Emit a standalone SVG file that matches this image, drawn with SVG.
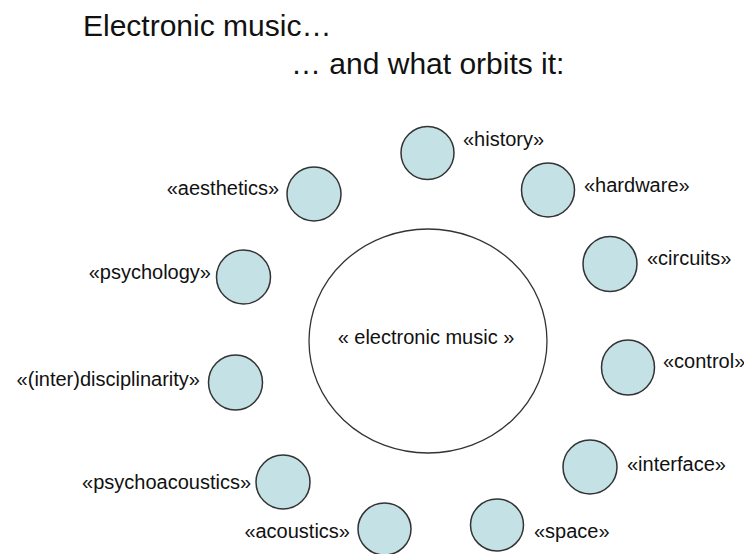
<svg xmlns="http://www.w3.org/2000/svg" width="744" height="554" viewBox="0 0 744 554">
<style>
text{font-family:"Liberation Sans",Arial,sans-serif;fill:#111}
.title{font-size:30px}
.lbl{font-size:20px}
.l{text-anchor:end}
.orb{fill:#c4e1e5;stroke:#333;stroke-width:1.5}
.core{fill:#fff;stroke:#333;stroke-width:1.3}
</style>
<rect width="744" height="554" fill="#fff"/>
<g id="title">
<text class="title" x="83" y="36">Electronic music…</text>
<text class="title" x="291" y="74">… and what orbits it:</text>
</g>
<g id="connectors"></g>
<g id="electronic-music">
<ellipse class="core" cx="428" cy="341" rx="119" ry="112"/>
<text class="lbl" x="426" y="344" text-anchor="middle">« electronic music »</text>
</g>
<g id="history"><ellipse class="orb" cx="427.5" cy="153" rx="26.5" ry="26.5"/><text class="lbl" x="463" y="146">«history»</text></g>
<g id="aesthetics"><ellipse class="orb" cx="314" cy="194" rx="27" ry="27"/><text class="lbl l" x="279" y="195">«aesthetics»</text></g>
<g id="hardware"><ellipse class="orb" cx="548" cy="190" rx="26.5" ry="27"/><text class="lbl" x="584" y="192">«hardware»</text></g>
<g id="psychology"><ellipse class="orb" cx="243.5" cy="277" rx="27" ry="27"/><text class="lbl l" x="211" y="279">«psychology»</text></g>
<g id="circuits"><ellipse class="orb" cx="610" cy="264" rx="27" ry="27.5"/><text class="lbl" x="647" y="265">«circuits»</text></g>
<g id="interdisciplinarity"><ellipse class="orb" cx="235.5" cy="382.5" rx="27" ry="27.5"/><text class="lbl l" x="200" y="386">«(inter)disciplinarity»</text></g>
<g id="control"><ellipse class="orb" cx="628" cy="367.5" rx="26.5" ry="27.5"/><text class="lbl" x="663" y="368">«control»</text></g>
<g id="interface"><ellipse class="orb" cx="590" cy="467" rx="27" ry="27"/><text class="lbl" x="627" y="471">«interface»</text></g>
<g id="psychoacoustics"><ellipse class="orb" cx="283" cy="482" rx="27" ry="27"/><text class="lbl l" x="251" y="489">«psychoacoustics»</text></g>
<g id="acoustics"><ellipse class="orb" cx="384.5" cy="529" rx="26.5" ry="26"/><text class="lbl l" x="350" y="538">«acoustics»</text></g>
<g id="space"><ellipse class="orb" cx="497" cy="525" rx="26.5" ry="26"/><text class="lbl" x="534" y="538">«space»</text></g>
</svg>
